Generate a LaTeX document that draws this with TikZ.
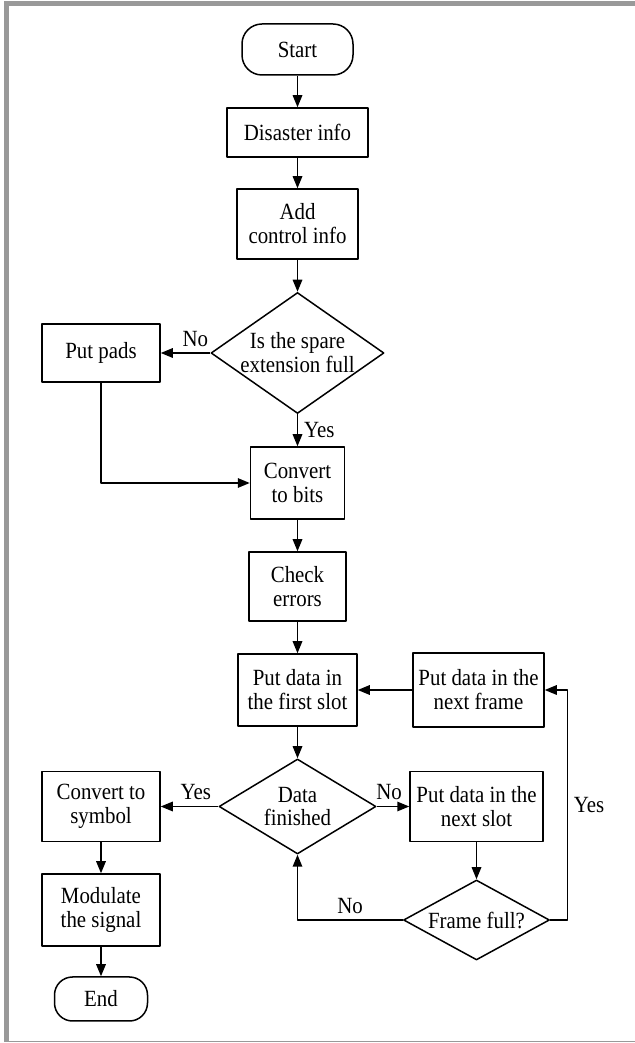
\documentclass[tikz,border=0pt]{standalone}
\usepackage{fontspec}
\setmainfont{Liberation Serif}[FakeStretch=0.9]
\usetikzlibrary{shapes.geometric,arrows.meta}
\definecolor{bordergray}{RGB}{153,153,153}
\begin{document}
\begin{tikzpicture}[font=\fontsize{13.2}{13.6}\selectfont, line join=round, line width=0.3mm, >={Triangle[length=2.4mm,width=1.9mm]},
	box/.style={draw, rectangle, align=center, inner sep=2pt},
	term/.style={draw, rectangle, rounded corners=4mm, align=center, inner sep=2pt},
	decision/.style={draw, diamond, align=center, inner sep=0pt}]
					\useasboundingbox (0,0) rectangle (12.7,20.86);
					\fill[bordergray] (0.08,20.74) rectangle (12.7,20.84);
					\fill[bordergray] (0.08,0.02) rectangle (0.18,20.84);
					\fill[bordergray] (0.08,0.02) rectangle (12.7,0.045);
					\node (start) at (5.95,19.87) [term, minimum width=2.22cm, minimum height=1.02cm] {Start};
					\node (info) at (5.95,18.21) [box, minimum width=2.82cm, minimum height=0.98cm] {Disaster info};
					\node (ctrl) at (5.95,16.38) [box, minimum width=2.42cm, minimum height=1.40cm] {Add\\control info};
					\node (spare) at (5.95,13.80) [decision, aspect=1.43, inner sep=-1.5pt, minimum width=3.46cm, minimum height=2.42cm] {Is the spare\\extension full};
					\node (pads) at (2.02,13.80) [box, minimum width=2.36cm, minimum height=1.16cm] {Put pads};
					\node (bits) at (5.95,11.20) [box, minimum width=1.88cm, minimum height=1.44cm] {Convert\\to bits};
					\node (chk) at (5.95,9.13) [box, minimum width=1.94cm, minimum height=1.38cm] {Check\\errors};
					\node (first) at (5.95,7.06) [box, minimum width=2.38cm, minimum height=1.44cm] {Put data in\\the first slot};
					\node (frame) at (9.57,7.06) [box, minimum width=2.62cm, minimum height=1.48cm] {Put data in the\\next frame};
					\node (fin) at (5.95,4.73) [decision, aspect=1.65, minimum width=3.14cm, minimum height=1.90cm] {Data\\finished};
					\node (sym) at (2.02,4.73) [box, minimum width=2.36cm, minimum height=1.40cm] {Convert to\\symbol};
					\node (slot) at (9.53,4.73) [box, minimum width=2.66cm, minimum height=1.40cm] {Put data in the\\next slot};
					\node (full) at (9.53,2.46) [decision, aspect=1.83, minimum width=2.92cm, minimum height=1.60cm] {Frame full?};
					\node (mod) at (2.02,2.66) [box, minimum width=2.36cm, minimum height=1.44cm] {Modulate\\the signal};
					\node (stop) at (2.02,0.88) [term, rounded corners=3.6mm, minimum width=1.86cm, minimum height=0.88cm] {End};
					\foreach \a/\b in {start/info,info/ctrl,ctrl/spare,bits/chk,chk/first,first/fin,sym/mod,mod/stop,slot/full}{
						\draw[->] (\a) -- (\b);	}
					\draw[->] (spare) -- node[above,pos=0.3] (noA) {No} (pads);
					\draw[->] (spare) -- node[right] (yesA) {Yes} (bits);
					\draw[->] (pads.south) |- (bits.west);
					\draw[->] (frame) -- (first);
					\draw[->] (fin) -- node[above,pos=0.39] (yesB) {Yes} (sym);
					\draw[->] (fin) -- node[above,pos=0.38] (noB) {No} (slot);
					\draw[->] (full.west) -| node[above,pos=0.25] (noC) {No} (fin.south);
					\draw[->] (full.east) -- ++(0.34,0) |- node[right,pos=0.25] (yesC) {Yes} (frame.east);
			\end{tikzpicture}
\end{document}
